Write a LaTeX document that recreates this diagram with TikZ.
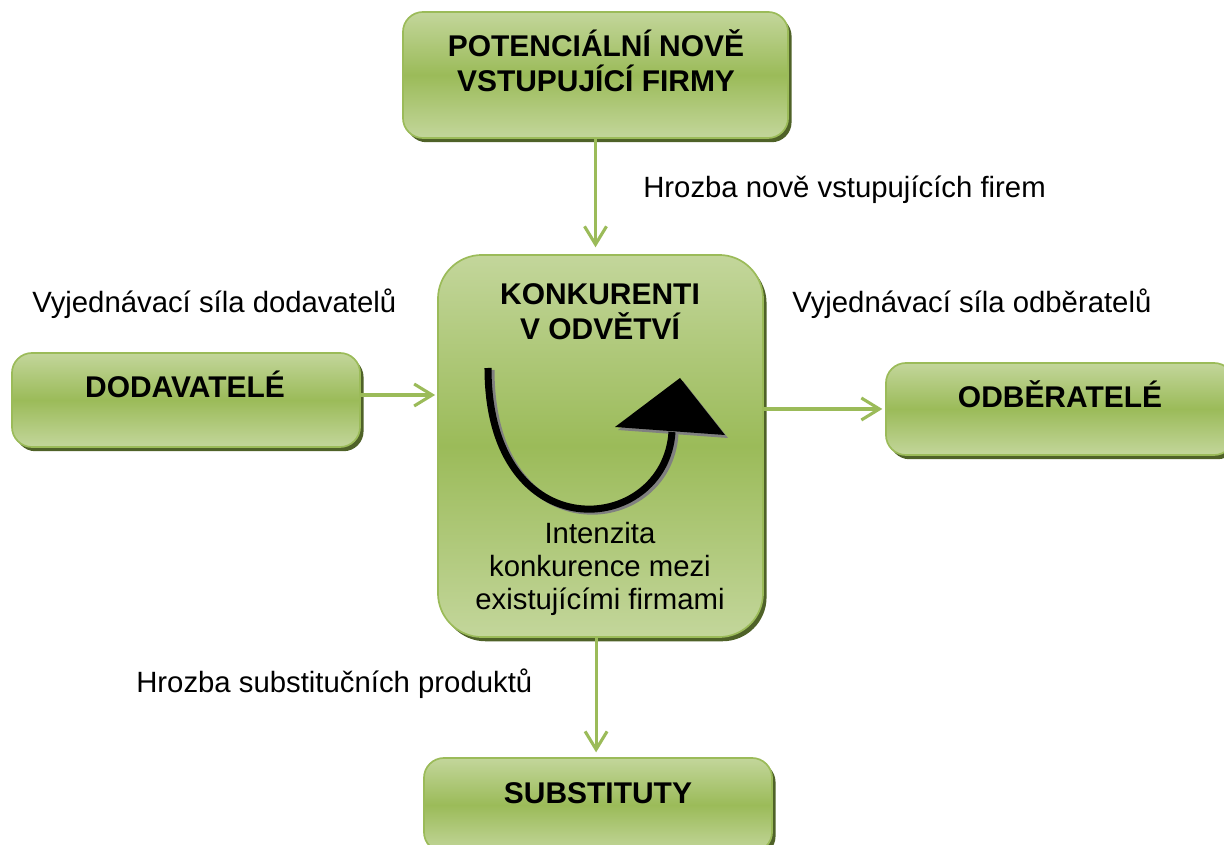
\documentclass[tikz,border=0pt]{standalone}
\usepackage{fontspec}
\setmainfont{Liberation Sans}
\usetikzlibrary{positioning,shadows,arrows.meta}

\definecolor{forceLight}{HTML}{C3D69B}
\definecolor{forceDark}{HTML}{9BBB59}
\definecolor{forceShadow}{HTML}{4F6228}

\tikzset{
  force/.style={draw=forceDark, line width=1.2pt, rounded corners=0.5cm,
    top color=forceLight, bottom color=forceLight, middle color=forceDark,
    drop shadow={shadow xshift=2.5pt, shadow yshift=-3pt, fill=forceShadow, opacity=1},
    inner sep=0pt},
  forceTitle/.style={font=\bfseries\fontsize{21.3}{25.5}\selectfont, align=center, inner sep=0pt, anchor=base},
  forceLabel/.style={font=\fontsize{20.85}{23.5}\selectfont, align=center, inner sep=0pt},
  threat/.style={draw=forceDark, line width=2.2pt,
    -{Straight Barb[length=0.45cm,width=0.55cm]}}
}

\begin{document}
\begin{tikzpicture}[x=0.025cm,y=-0.025cm]
  \useasboundingbox (0,0) rectangle (1224,845);

  % the five forces
  \node[force, minimum width=9.625cm, minimum height=3.15cm] (NewEntrants) at (595.5,75) {};
  \node[force, minimum width=8.125cm, minimum height=9.55cm, rounded corners=1.1cm] (Rivals) at (600.5,446) {};
  \node[force, minimum width=8.7cm, minimum height=2.35cm] (Suppliers) at (186,400) {};
  \node[force, minimum width=8.7cm, minimum height=2.3cm] (Buyers) at (1060,409) {};
  \node[force, minimum width=8.7cm, minimum height=2.35cm] (Substitutes) at (598,805) {};

  % titles in the boxes (base = last line)
  \node[forceTitle] (NewEntrantsText) at (596,92) {POTENCIÁLNÍ NOVĚ\\VSTUPUJÍCÍ FIRMY};
  \node[forceTitle] (RivalsText) at (600,340) {KONKURENTI\\V ODVĚTVÍ};
  \node[forceTitle] (SuppliersText) at (185,398) {DODAVATELÉ};
  \node[forceTitle] (BuyersText) at (1060,408) {ODBĚRATELÉ};
  \node[forceTitle] (SubstitutesText) at (598,803) {SUBSTITUTY};
  \node[forceLabel, anchor=base] (RivalryText) at (600,610)
    {Intenzita\\konkurence mezi\\existujícími firmami};

  % rivalry symbol
  \draw[gray, line width=5pt] (491,370) .. controls (491,554) and (668,539) .. (675,434);
  \fill[gray] (618,430) -- (683,381) -- (728,438) -- cycle;
  \draw[black, line width=5pt] (488,368) .. controls (488,552) and (665,537) .. (672,432);
  \fill[black] (615,427) -- (680,378) -- (725,435) -- cycle;

  % connectors
  \draw[threat, shorten >=0.17cm] (NewEntrants.south) -- (NewEntrants.south |- Rivals.north);
  \draw[threat, shorten >=0.05cm] ([yshift=0.125cm]Suppliers.east) -- ([yshift=0.125cm]Suppliers.east -| Rivals.west);
  \draw[threat, shorten >=0.07cm] (Buyers.west -| Rivals.east) -- (Buyers.west);
  \draw[threat, shorten >=0.12cm] ([xshift=-0.11cm]Rivals.south) -- ([xshift=-0.11cm]Rivals.south |- Substitutes.north);

  % connector labels
  \node[forceLabel, anchor=base west] (EntryLabel) at (643,198) {Hrozba nově vstupujících firem};
  \node[forceLabel, anchor=base west] (SupplierLabel) at (32,313) {Vyjednávací síla dodavatelů};
  \node[forceLabel, anchor=base west] (BuyerLabel) at (792,313) {Vyjednávací síla odběratelů};
  \node[forceLabel, anchor=base west] (SubstituteLabel) at (136,692) {Hrozba substitučních produktů};

\end{tikzpicture}
\end{document}
